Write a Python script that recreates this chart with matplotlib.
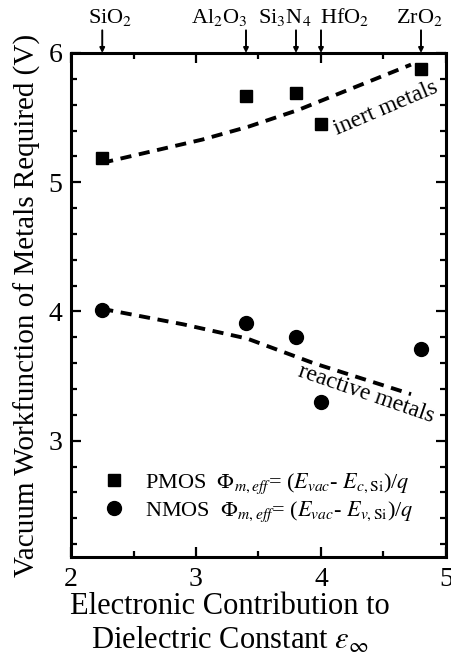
import matplotlib
matplotlib.use('Agg')
import matplotlib.pyplot as plt

# data
dielectrics = [r'SiO$_2$', r'Al$_2$O$_3$', r'Si$_3$N$_4$', r'HfO$_2$', r'ZrO$_2$']
eps_inf = [2.25, 3.4, 3.8, 4.0, 4.8]
label_x = [2.31, 3.19, 3.71, 4.19, 4.79]

pmos = [5.19, 5.67, 5.69, 5.45, 5.88]
nmos = [4.01, 3.91, 3.80, 3.30, 3.71]

inert_x = [2.25, 3.05, 3.42, 3.82, 4.72]
inert_y = [5.15, 5.33, 5.43, 5.56, 5.91]
reactive_x = [2.25, 2.9, 3.41, 3.94, 4.72]
reactive_y = [4.02, 3.90, 3.79, 3.60, 3.36]

plt.rcParams['font.family'] = ['Liberation Serif', 'DejaVu Serif']
plt.rcParams['mathtext.fontset'] = 'stix'
plt.rcParams['lines.scale_dashes'] = False

fig = plt.figure(figsize=(4.52, 6.66), dpi=100)
ax = fig.add_axes([71/452, 1-557/666, 375/452, 504/666])

ax.plot(inert_x, inert_y, color='black', lw=2.8, dashes=(8, 5.5))
ax.plot(reactive_x, reactive_y, color='black', lw=2.8, dashes=(8, 5.5))
sq, = ax.plot(eps_inf, pmos, 's', color='black', ms=8.5, ls='none',
              label=r'PMOS  $\Phi_{m,eff}$= ($E_{vac}$- $E_{c,\mathrm{Si}}$)/$q$')
ci, = ax.plot(eps_inf, nmos, 'o', color='black', ms=10, ls='none',
              label=r'NMOS  $\Phi_{m,eff}$= ($E_{vac}$- $E_{v,\mathrm{Si}}$)/$q$')

ax.text(4.52, 5.57, 'inert metals', rotation=23, fontsize=17,
        ha='center', va='center')
ax.text(4.36, 3.36, 'reactive metals', rotation=-19, fontsize=17,
        ha='center', va='center')

ax.set_xlim(2, 5)
ax.set_ylim(2.1, 6)
ax.set_xticks([2, 3, 4, 5])
ax.set_xticks([2.5, 3.5, 4.5], minor=True)
ax.set_yticks([3, 4, 5, 6])
ax.set_yticks([2.2, 2.4, 2.6, 2.8, 3.2, 3.4, 3.6, 3.8, 4.2, 4.4, 4.6, 4.8,
               5.2, 5.4, 5.6, 5.8], minor=True)
ax.tick_params(which='both', direction='in', top=True, right=True,
               labelsize=20, width=1.6)
ax.tick_params(which='major', length=7)
ax.tick_params(which='minor', length=4)
ax.tick_params(axis='x', pad=7)
ax.tick_params(axis='y', pad=6)
for s in ax.spines.values():
    s.set_linewidth(2.2)

# arrows marking each dielectric on the top axis
tr = ax.get_xaxis_transform()
for name, x, lx in zip(dielectrics, eps_inf, label_x):
    ax.annotate('', xy=(x, 1.0), xycoords=tr, xytext=(x, 1.045), textcoords=tr,
                arrowprops=dict(arrowstyle='-|>', color='black', lw=1.4,
                                mutation_scale=7, shrinkA=0, shrinkB=0))
    ax.text(lx, 1.05, name, transform=tr, ha='center', va='bottom', fontsize=16)

ax.set_ylabel('Vacuum Workfunction of Metals Required (V)', fontsize=21)
ax.yaxis.set_label_coords(-0.08, 0.5)
ax.set_xlabel('Electronic Contribution to\nDielectric Constant $\\varepsilon_{\\infty}$',
              fontsize=22, linespacing=1.2)
ax.xaxis.set_label_coords((230-71)/375, -0.07)
ax.xaxis.label.set_va('top')

ax.legend(handles=[sq, ci], loc='lower left', frameon=False, fontsize=16,
          handletextpad=0.9, borderaxespad=0.2, labelspacing=0.15,
          handlelength=1.0, bbox_to_anchor=(0.05, 0.04))

fig.savefig('out.png', dpi=100)
